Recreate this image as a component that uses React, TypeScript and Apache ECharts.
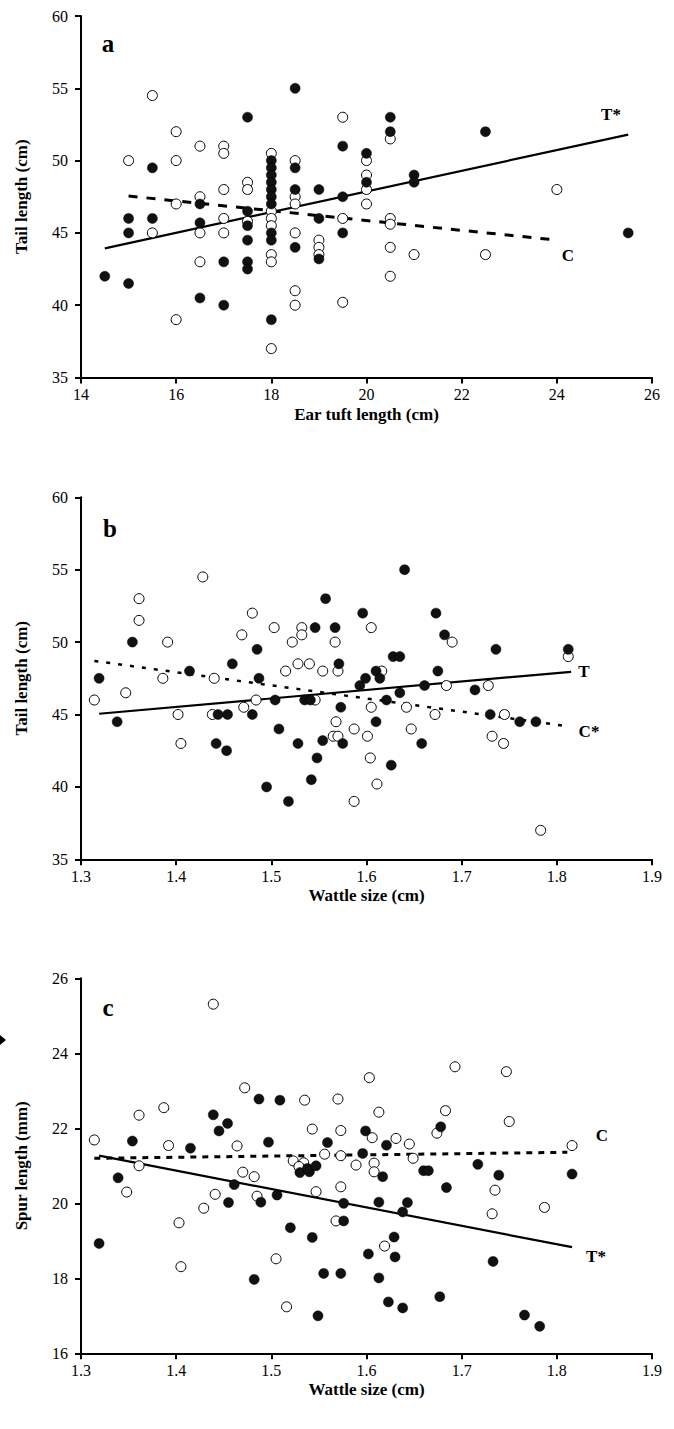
import React, { useEffect, useRef } from "react";
import * as echarts from "echarts";

// ---------- Panel a : Tail length vs Ear tuft length ----------
const A_FILLED: number[][] = [
  [14.5, 42], [15, 46], [15, 45], [15, 41.5], [15.5, 49.5], [15.5, 46], [16.5, 47], [16.5, 45.7],
  [16.5, 40.5], [17, 43], [17, 40], [17.5, 53], [17.5, 46.5], [17.5, 45.5], [17.5, 44.5], [17.5, 43],
  [17.5, 42.5], [18, 50], [18, 49.5], [18, 49], [18, 48.5], [18, 48], [18, 47.5], [18, 47], [18, 45],
  [18, 44.5], [18, 39], [18.5, 55], [18.5, 49.5], [18.5, 48], [18.5, 44], [19, 48], [19, 46], [19, 43.2],
  [19.5, 51], [19.5, 47.5], [19.5, 45], [20, 50.5], [20, 48.5], [20.5, 53], [20.5, 52], [21, 49],
  [21, 48.5], [22.5, 52], [25.5, 45],
];
const A_OPEN: number[][] = [
  [15, 50], [15.5, 54.5], [15.5, 45], [16, 52], [16, 50], [16, 47], [16, 39], [16.5, 51], [16.5, 47.5],
  [16.5, 45], [16.5, 43], [17, 51], [17, 50.5], [17, 48], [17, 46], [17, 45], [17.5, 48.5], [17.5, 48],
  [17.5, 45.8], [18, 50.5], [18, 46.5], [18, 46], [18, 45.5], [18, 43.5], [18, 43], [18, 37], [18.5, 50],
  [18.5, 47.5], [18.5, 47], [18.5, 45], [18.5, 41], [18.5, 40], [19, 44.5], [19, 44], [19, 43.5],
  [19.5, 53], [19.5, 46], [19.5, 40.2], [20, 50], [20, 49], [20, 48], [20, 47], [20.5, 51.5], [20.5, 46],
  [20.5, 45.6], [20.5, 44], [20.5, 42], [21, 43.5], [22.5, 43.5], [24, 48],
];
const A_T_LINE: number[][] = [[14.5, 43.93], [25.5, 51.8]];
const A_C_LINE: number[][] = [[15, 47.55], [24, 44.5]];

// ---------- Panel b : Tail length vs Wattle size ----------
const B_FILLED: number[][] = [
  [1.354, 50], [1.485, 49.5], [1.557, 53], [1.546, 51], [1.567, 51], [1.64, 55], [1.596, 52], [1.673, 52],
  [1.682, 50.5], [1.736, 49.5], [1.812, 49.5], [1.319, 47.5], [1.338, 44.5], [1.414, 48], [1.459, 48.5],
  [1.444, 45], [1.454, 45], [1.442, 43], [1.453, 42.5], [1.48, 45], [1.487, 47.5], [1.504, 46],
  [1.508, 44], [1.495, 40], [1.518, 39], [1.528, 43], [1.535, 46], [1.541, 46], [1.554, 43.2],
  [1.548, 42], [1.542, 40.5], [1.571, 48.5], [1.573, 45.5], [1.575, 43], [1.593, 47], [1.628, 49],
  [1.635, 49], [1.61, 48], [1.599, 47.5], [1.614, 47.5], [1.675, 48], [1.661, 47], [1.635, 46.5],
  [1.714, 46.7], [1.621, 46], [1.73, 45], [1.761, 44.5], [1.778, 44.5], [1.61, 44.5], [1.658, 43],
  [1.626, 41.5],
];
const B_OPEN: number[][] = [
  [1.361, 53], [1.361, 51.5], [1.391, 50], [1.428, 54.5], [1.469, 50.5], [1.48, 52], [1.503, 51],
  [1.522, 50], [1.532, 51], [1.532, 50.5], [1.567, 50], [1.605, 51], [1.69, 50], [1.812, 49], [1.314, 46],
  [1.347, 46.5], [1.386, 47.5], [1.402, 45], [1.405, 43], [1.44, 47.5], [1.438, 45], [1.471, 45.5],
  [1.484, 46], [1.515, 48], [1.528, 48.5], [1.546, 46], [1.54, 48.5], [1.554, 48], [1.57, 48],
  [1.568, 44.5], [1.565, 43.5], [1.57, 43.5], [1.587, 44], [1.587, 39], [1.616, 48], [1.684, 47],
  [1.728, 47], [1.605, 45.5], [1.642, 45.5], [1.672, 45], [1.745, 45], [1.601, 43.5], [1.647, 44],
  [1.732, 43.5], [1.744, 43], [1.604, 42], [1.611, 40.2], [1.783, 37],
];
const B_T_LINE: number[][] = [[1.319, 45.05], [1.815, 47.95]];
const B_C_LINE: number[][] = [[1.314, 48.7], [1.81, 44.2]];

// ---------- Panel c : Spur length vs Wattle size ----------
const C_FILLED: number[][] = [
  [1.354, 21.66], [1.415, 21.47], [1.439, 22.36], [1.445, 21.93], [1.454, 22.13], [1.487, 22.78],
  [1.497, 21.63], [1.509, 22.75], [1.559, 21.62], [1.339, 20.68], [1.319, 18.93], [1.455, 20.02],
  [1.461, 20.5], [1.489, 20.03], [1.482, 17.97], [1.506, 20.22], [1.52, 19.35], [1.53, 20.82],
  [1.54, 20.84], [1.538, 20.93], [1.547, 21.0], [1.543, 19.09], [1.555, 18.13], [1.549, 17.0],
  [1.576, 20.0], [1.576, 19.53], [1.573, 18.13], [1.596, 21.33], [1.617, 20.71], [1.66, 20.87],
  [1.665, 20.87], [1.717, 21.04], [1.739, 20.75], [1.816, 20.78], [1.684, 20.42], [1.613, 20.03],
  [1.643, 20.02], [1.638, 19.77], [1.629, 19.1], [1.602, 18.65], [1.63, 18.57], [1.733, 18.45],
  [1.613, 18.01], [1.677, 17.51], [1.623, 17.37], [1.638, 17.21], [1.766, 17.02], [1.782, 16.72],
  [1.599, 21.93], [1.621, 21.55], [1.678, 22.04],
];
const C_OPEN: number[][] = [
  [1.439, 25.31], [1.314, 21.69], [1.361, 22.35], [1.387, 22.55], [1.392, 21.54], [1.464, 21.53],
  [1.472, 23.08], [1.535, 22.75], [1.543, 21.98], [1.57, 22.78], [1.573, 21.94], [1.556, 21.31],
  [1.573, 21.27], [1.523, 21.13], [1.534, 21.08], [1.529, 20.98], [1.361, 21.0], [1.348, 20.3],
  [1.403, 19.48], [1.405, 18.31], [1.429, 19.87], [1.441, 20.24], [1.47, 20.83], [1.482, 20.71],
  [1.485, 20.19], [1.505, 18.52], [1.516, 17.24], [1.547, 20.31], [1.573, 20.44], [1.568, 19.53],
  [1.589, 21.02], [1.608, 21.07], [1.608, 20.84], [1.649, 21.2], [1.735, 20.35], [1.732, 19.72],
  [1.787, 19.89], [1.619, 18.86], [1.603, 23.35], [1.693, 23.64], [1.747, 23.51], [1.613, 22.43],
  [1.683, 22.47], [1.75, 22.18], [1.606, 21.75], [1.631, 21.73], [1.645, 21.58], [1.674, 21.87],
  [1.816, 21.54],
];
const C_T_LINE: number[][] = [[1.319, 21.27], [1.816, 18.83]];
const C_C_LINE: number[][] = [[1.314, 21.2], [1.811, 21.36]];

// ---------- Axes ----------
const X_TITLES = ["Ear tuft length (cm)", "Wattle size (cm)", "Wattle size (cm)"];
const Y_TITLES = ["Tail length (cm)", "Tail length (cm)", "Spur length (mm)"];
const X_RANGES = [[14, 26, 2], [1.3, 1.9, 0.1], [1.3, 1.9, 0.1]];
const Y_RANGES = [[35, 60, 5], [35, 60, 5], [16, 26, 2]];
const X_DECIMALS = [0, 1, 1];
const PANEL_LETTERS = ["a", "b", "c"];
const LINE_LABELS = [["T*", "C"], ["T", "C*"], ["T*", "C"]];

const FONT = '"Liberation Serif", "Times New Roman", serif';

export default function App() {
  const ref = useRef<HTMLDivElement>(null);
  useEffect(() => {
    if (!ref.current) return;
    const chart = echarts.init(ref.current, undefined, { renderer: "svg" });
    const grids = [
      { left: 81, top: 16, width: 571, height: 361.5 },
      { left: 81, top: 497.3, width: 571, height: 362 },
      { left: 81, top: 978.3, width: 571, height: 375 },
    ];
    const axisLine = { show: true, onZero: false, lineStyle: { color: "#000", width: 2 } };
    const axisTick = { show: true, inside: false, length: 6, lineStyle: { color: "#000", width: 2 } };
    const nameTextStyle = { fontFamily: FONT, fontWeight: "bold" as const, fontSize: 17, color: "#000" };
    const xAxis = X_RANGES.map((r, i) => ({
      type: "value" as const,
      gridIndex: i,
      min: r[0],
      max: r[1],
      interval: r[2],
      axisLine,
      axisTick,
      splitLine: { show: false },
      axisLabel: {
        color: "#000",
        fontFamily: FONT,
        fontSize: 16,
        margin: 9,
        formatter: (v: number) => v.toFixed(X_DECIMALS[i]),
      },
      name: X_TITLES[i],
      nameLocation: "middle" as const,
      nameGap: 28,
      nameTextStyle,
    }));
    const yAxis = Y_RANGES.map((r, i) => ({
      type: "value" as const,
      gridIndex: i,
      min: r[0],
      max: r[1],
      interval: r[2],
      axisLine,
      axisTick,
      splitLine: { show: false },
      axisLabel: { color: "#000", fontFamily: FONT, fontSize: 16, margin: 13 },
      name: Y_TITLES[i],
      nameLocation: "middle" as const,
      nameGap: 51,
      nameTextStyle,
    }));

    const panels = [
      { filled: A_FILLED, open: A_OPEN, t: A_T_LINE, c: A_C_LINE, cDash: [9, 9], cWidth: 3 },
      { filled: B_FILLED, open: B_OPEN, t: B_T_LINE, c: B_C_LINE, cDash: [4, 8], cWidth: 2.5 },
      { filled: C_FILLED, open: C_OPEN, t: C_T_LINE, c: C_C_LINE, cDash: [6, 6], cWidth: 3 },
    ];
    const series: any[] = [];
    panels.forEach((p, i) => {
      series.push({
        type: "line", xAxisIndex: i, yAxisIndex: i, data: p.t, symbol: "none", z: 1,
        lineStyle: { color: "#000", width: 2.2 },
      });
      series.push({
        type: "line", xAxisIndex: i, yAxisIndex: i, data: p.c, symbol: "none", z: 1,
        lineStyle: { color: "#000", width: p.cWidth, type: p.cDash },
      });
      series.push({
        type: "scatter", xAxisIndex: i, yAxisIndex: i, data: p.open, symbolSize: 10, z: 2,
        itemStyle: { color: "#fff", borderColor: "#000", borderWidth: 1, opacity: 1 },
      });
      series.push({
        type: "scatter", xAxisIndex: i, yAxisIndex: i, data: p.filled, symbolSize: 10, z: 3,
        itemStyle: { color: "#111", borderColor: "#000", borderWidth: 0.5, opacity: 1 },
      });
    });

    const textEl = (text: string, x: number, y: number, size: number) => ({
      type: "text",
      x,
      y,
      style: {
        text,
        font: `bold ${size}px ${FONT}`,
        fill: "#000",
        textAlign: "center",
        textVerticalAlign: "middle",
        align: "center",
        verticalAlign: "middle",
      },
    });
    const letterPos = [[108, 43], [110, 528], [108, 1007]];
    const labelPos = [
      [[611, 114], [568, 255]],
      [[584, 671], [589, 731]],
      [[596, 1256], [602, 1135]],
    ];
    const graphic: any[] = [];
    PANEL_LETTERS.forEach((l, i) => {
      graphic.push(textEl(l, letterPos[i][0], letterPos[i][1], 25));
      graphic.push(textEl(LINE_LABELS[i][0], labelPos[i][0][0], labelPos[i][0][1], 17));
      graphic.push(textEl(LINE_LABELS[i][1], labelPos[i][1][0], labelPos[i][1][1], 17));
    });
    graphic.push({
      type: "polygon",
      shape: { points: [[0, 1035], [6, 1040], [0, 1045]] },
      style: { fill: "#000" },
    });

    chart.setOption({
      animation: false,
      backgroundColor: "#fff",
      grid: grids,
      xAxis,
      yAxis,
      series,
      graphic,
    });
    return () => chart.dispose();
  }, []);
  return (
    <div
      ref={ref}
      style={{ position: "absolute", left: 0, top: 0, width: 674, height: 1429, background: "#fff" }}
    />
  );
}
